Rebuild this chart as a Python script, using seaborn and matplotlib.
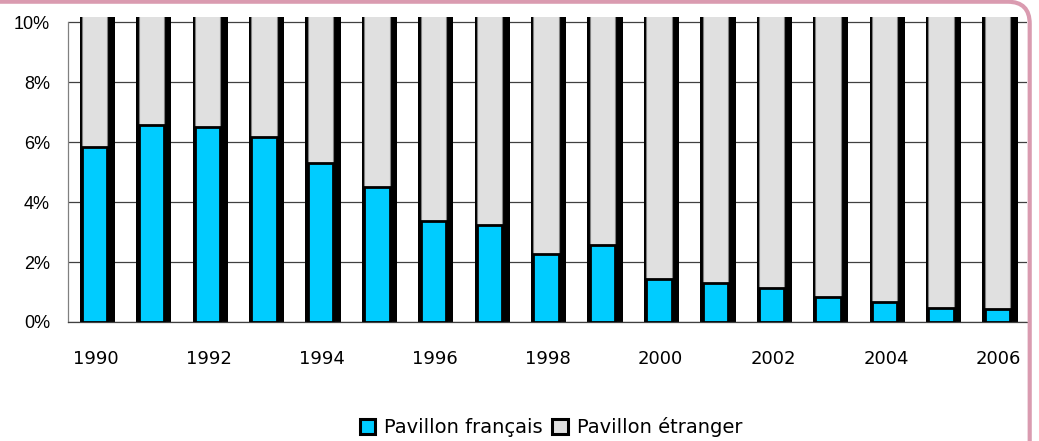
import numpy as np
import pandas as pd
import matplotlib
matplotlib.use("Agg")
import matplotlib.pyplot as plt
import seaborn as sns
from matplotlib.patches import Patch, FancyBboxPatch
from matplotlib.ticker import FixedLocator, FuncFormatter
from matplotlib.transforms import IdentityTransform

# données (part en %)
years = [1990, 1991, 1992, 1993, 1994, 1995, 1996, 1997, 1998,
         1999, 2000, 2001, 2002, 2003, 2004, 2005, 2006]
pavillon_francais = [5.85, 6.58, 6.50, 6.17, 5.31, 4.50, 3.36, 3.23, 2.28,
                     2.56, 1.43, 1.30, 1.15, 0.82, 0.68, 0.48, 0.42]
series_labels = ["Pavillon français", "Pavillon étranger"]
y_ticks = [0, 2, 4, 6, 8, 10]
x_label_years = [1990, 1992, 1994, 1996, 1998, 2000, 2002, 2004, 2006]

BLUE = "#00CCFF"
GREY = "#E0E0E0"
PINK = "#DA9BB0"

df = pd.DataFrame({"annee": years, "francais": pavillon_francais})
df["etranger"] = 100 - df["francais"]
df["total"] = 100.0

sns.set_style("white")
plt.rcParams["font.family"] = ["DejaVu Sans"]
plt.rcParams["text.color"] = "black"
plt.rcParams["xtick.labelcolor"] = "black"
plt.rcParams["ytick.labelcolor"] = "black"

fig = plt.figure(figsize=(10.39, 4.41), dpi=100)
ax = fig.add_axes([68 / 1039, 1 - 322 / 441, (1027 - 68) / 1039, (322 - 17) / 441])

bar_w = 0.45
bar_dx = -0.025
shadow_w = 0.625
shadow_dx = 0.021

# ombre noire derrière chaque barre
sns.barplot(x=df["annee"] + shadow_dx, y=df["total"], native_scale=True,
            color="black", saturation=1, width=shadow_w, errorbar=None,
            linewidth=0, ax=ax, zorder=2)
# pile : part étrangère (jusqu'à 100 %) puis part française
sns.barplot(x=df["annee"] + bar_dx, y=df["total"], native_scale=True,
            color=GREY, saturation=1, width=bar_w, errorbar=None,
            edgecolor="#808080", linewidth=0.8, ax=ax, zorder=3)
sns.barplot(x=df["annee"] + bar_dx, y=df["francais"], native_scale=True,
            color=BLUE, saturation=1, width=bar_w, errorbar=None,
            edgecolor="black", linewidth=2.0, ax=ax, zorder=4)

ax.set_xlim(years[0] - 0.5, years[-1] + 0.5)
ax.set_ylim(0, 10.17)
ax.set_xlabel("")
ax.set_ylabel("")

# axe y
ax.yaxis.set_major_locator(FixedLocator(y_ticks))
ax.yaxis.set_major_formatter(FuncFormatter(lambda v, p: f"{v:.0f}%"))
ax.tick_params(axis="y", which="major", direction="out", length=5, width=0.9,
               color="#404040", pad=8, labelsize=13, labelcolor="black")
for lab in ax.get_yticklabels():
    lab.set_fontfamily("Liberation Sans")
ax.grid(axis="y", color="#404040", linewidth=0.9, zorder=0)
ax.grid(axis="x", visible=False)
ax.set_axisbelow(True)

# axe x : étiquettes une année sur deux, graduations entre catégories
ax.xaxis.set_major_locator(FixedLocator(x_label_years))
ax.xaxis.set_major_formatter(FuncFormatter(lambda v, p: f"{v:.0f}"))
ax.xaxis.set_minor_locator(FixedLocator(np.arange(years[0] - 0.5, years[-1] + 1, 1)))
ax.tick_params(axis="x", which="major", length=0, pad=20, labelsize=13,
               labelcolor="black")
ax.tick_params(axis="x", which="minor", direction="out", length=5, width=0.9,
               color="#404040")

for side in ["top", "right"]:
    ax.spines[side].set_visible(False)
ax.spines["left"].set_color("#808080")
ax.spines["left"].set_linewidth(0.9)
ax.spines["left"].set_bounds(0, 10)
ax.spines["bottom"].set_color("#404040")
ax.spines["bottom"].set_linewidth(0.9)

# légende
handles = [Patch(facecolor=BLUE, edgecolor="black", linewidth=2.2),
           Patch(facecolor=GREY, edgecolor="black", linewidth=2.2)]
fig.legend(handles, series_labels, loc="center", ncol=2, frameon=False,
           bbox_to_anchor=(551 / 1039, 1 - 427 / 441), fontsize=14,
           handlelength=0.8, handleheight=0.8, handletextpad=0.45,
           columnspacing=0.5, labelcolor="black")

# cadre rose arrondi (haut et droite)
frame = FancyBboxPatch((-40, -40), 1029.7 + 40, 439.3 + 40,
                       boxstyle="round,pad=0,rounding_size=22",
                       transform=IdentityTransform(), facecolor="none",
                       edgecolor=PINK, linewidth=3.0, zorder=10)
fig.patches.append(frame)

fig.savefig("out.png", dpi=100)
